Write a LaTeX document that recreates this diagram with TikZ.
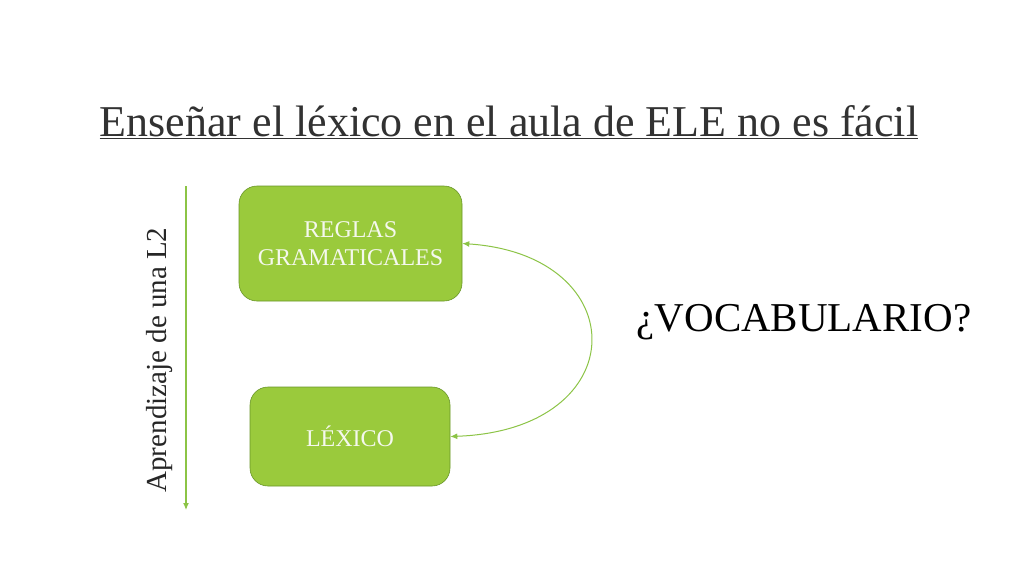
\documentclass[tikz,border=0pt]{standalone}
\usepackage{fontspec}
\setmainfont{Liberation Serif}
\usetikzlibrary{arrows.meta}
\definecolor{box_fill}{RGB}{154,202,60}
\definecolor{box_edge}{RGB}{105,150,40}
\definecolor{line_green}{RGB}{140,196,70}
\definecolor{title_gray}{RGB}{50,50,50}
\definecolor{box_text}{RGB}{245,248,238}

\begin{document}
\begin{tikzpicture}[x=1pt,y=-1pt,semithick,>={Latex[length=7pt,width=6pt]}]
    \tikzstyle{box}=[draw=box_edge, fill=box_fill, rounded corners=18pt, text=box_text, align=center, font=\fontsize{24}{28}\selectfont]
    \tikzstyle{link}=[draw=line_green, line width=1pt, <->]

    \useasboundingbox[fill=white] (0,0) rectangle (1024,576);

    \node[text=title_gray, font=\fontsize{44}{52}\selectfont] (title) at (509,122) {\underline{Enseñar el léxico en el aula de ELE no es fácil}};

    \node[box, minimum width=223pt, minimum height=115pt] (reglas) at (350.5,243.5) {REGLAS\\GRAMATICALES};
    \node[box, minimum width=200pt, minimum height=99pt] (lexico) at (350,436.5) {LÉXICO};

    \node[font=\fontsize{41}{48}\selectfont] (voc) at (804,322) {¿VOCABULARIO?};

    \coordinate (top) at (186,186);
    \coordinate (bot) at (186,510);
    \draw[line_green, line width=1.2pt, ->] (top) -- (bot);
    \node[rotate=90, text=black!85, font=\fontsize{29}{34}\selectfont] (eje) at (160,360) {Aprendizaje de una L2};

    \path[link] (reglas.east) .. controls (635,255) and (635,430) .. (lexico.east);
\end{tikzpicture}
\end{document}
